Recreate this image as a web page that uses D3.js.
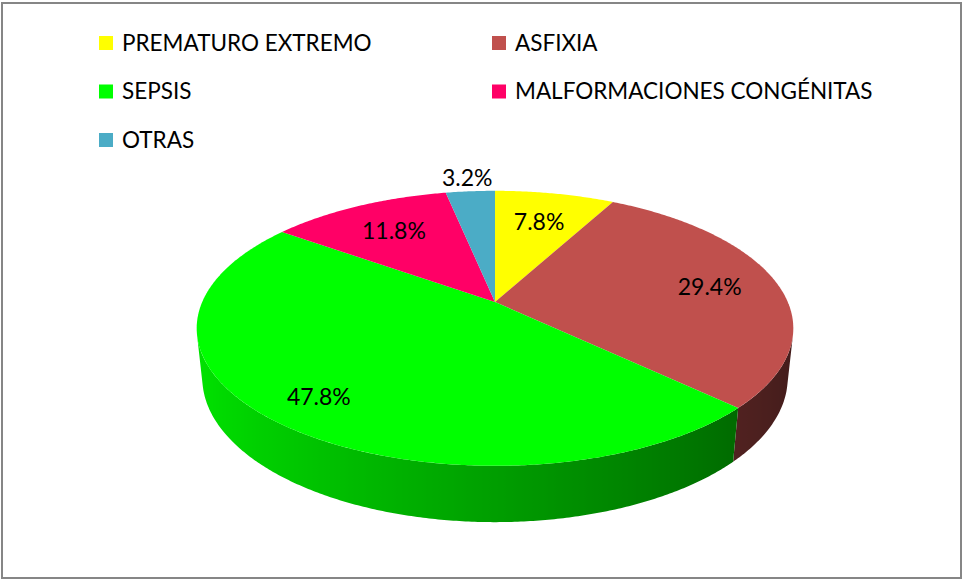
<!DOCTYPE html>
<meta charset="utf-8">
<style>
body { margin: 0; background: #fff; }
text { font-family: Lato, "Open Sans", sans-serif; fill: #000; }
.legend text { font-size: 22.5px; }
.lbl { font-size: 23px; text-anchor: middle; }
</style>
<body>
<script src="https://d3js.org/d3.v7.min.js"></script>
<script>

var categories = ["PREMATURO EXTREMO", "ASFIXIA", "SEPSIS", "MALFORMACIONES CONGÉNITAS", "OTRAS"];
var values = [7.8, 29.4, 47.8, 11.8, 3.2];
var colors = ["#ffff00", "#c0504d", "#00ff00", "#ff0066", "#4bacc6"];

var width = 964,
    height = 580;

// 3d perspective view of the pie
var cx = 495, cy = 302,
    focal = 1365,
    dist = 4.662,
    tilt = 26.9 * Math.PI / 180,
    sn = Math.sin(tilt), cs = Math.cos(tilt),
    thick = 0.19;

function proj(a, r, h) {
  var u = r * Math.sin(a), v = r * Math.cos(a);
  var depth = dist + v * cs - h * sn;
  return [cx + focal * u / depth, cy - focal * (v * sn + h * cs) / depth];
}

function shade(col, a) {
  var k = 0.62 - 0.28 * Math.sin(a);
  var c = d3.rgb(col);
  return d3.rgb(c.r * k, c.g * k, c.b * k).formatHex();
}

var svg = d3.select("body").append("svg")
    .attr("width", width)
    .attr("height", height);

svg.append("rect")
    .attr("x", 2).attr("y", 3)
    .attr("width", 959).attr("height", 575)
    .attr("fill", "#fff")
    .attr("stroke", "#868686")
    .attr("stroke-width", 2);

var pie = d3.pie().sort(null).value(function(d) { return d; });
var arcs = pie(values);

var line = d3.line();
var defs = svg.append("defs");

// side walls (only the part facing the viewer)
var aMin = Math.acos(-1 / (dist * cs)),
    aMax = 2 * Math.PI - aMin,
    step = Math.PI / 360,
    gx0 = cx - 305, gx1 = cx + 305;

var walls = svg.append("g");
arcs.forEach(function(d, i) {
  var lo = Math.max(d.startAngle, aMin),
      hi = Math.min(d.endAngle, aMax);
  if (lo >= hi) return;
  var n = Math.ceil((hi - lo) / step);
  var topPts = [], botPts = [];
  var grad = defs.append("linearGradient")
      .attr("id", "wall" + i)
      .attr("gradientUnits", "userSpaceOnUse")
      .attr("x1", gx0).attr("x2", gx1)
      .attr("y1", 0).attr("y2", 0);
  var stops = [];
  for (var j = 0; j <= n; j++) {
    var a = lo + (hi - lo) * j / n;
    var p = proj(a, 1, 0);
    topPts.push(p);
    botPts.unshift(proj(a, 1, -thick));
    stops.push({ off: (p[0] - gx0) / (gx1 - gx0), col: shade(colors[i], a) });
  }
  stops.sort(function(s, t) { return s.off - t.off; });
  grad.selectAll("stop")
      .data(stops)
      .enter().append("stop")
      .attr("offset", function(s) { return s.off; })
      .attr("stop-color", function(s) { return s.col; });
  walls.append("path")
      .attr("d", line(topPts.concat(botPts)) + "Z")
      .attr("fill", "url(#wall" + i + ")");
});

// top faces
svg.append("g").selectAll("path")
    .data(arcs)
    .enter().append("path")
    .attr("d", function(d) {
      var pts = [proj(0, 0, 0)];
      var n = Math.ceil((d.endAngle - d.startAngle) / step);
      for (var j = 0; j <= n; j++) {
        pts.push(proj(d.startAngle + (d.endAngle - d.startAngle) * j / n, 1, 0));
      }
      return line(pts) + "Z";
    })
    .attr("fill", function(d, i) { return colors[i]; });

// data labels
var fmt = d3.format(".1f");
svg.append("g").selectAll("text")
    .data(arcs)
    .enter().append("text")
    .attr("class", "lbl")
    .attr("transform", function(d) {
      var mid = (d.startAngle + d.endAngle) / 2;
      var r = d.data < 5 ? 1.15 : 0.77 - 0.07 * Math.cos(mid);
      return "translate(" + proj(mid, r, 0) + ")";
    })
    .attr("dy", ".35em")
    .text(function(d) { return fmt(d.data) + "%"; });

// legend
var legend = svg.append("g").attr("class", "legend")
  .selectAll("g")
    .data(categories)
    .enter().append("g")
    .attr("transform", function(d, i) {
      return "translate(" + (99 + (i % 2) * 393) + "," + (36 + Math.floor(i / 2) * 48.5) + ")";
    });

legend.append("rect")
    .attr("width", 14).attr("height", 14)
    .attr("fill", function(d, i) { return colors[i]; });

legend.append("text")
    .attr("x", 23).attr("y", 7)
    .attr("dy", ".35em")
    .text(function(d) { return d; });

</script>
